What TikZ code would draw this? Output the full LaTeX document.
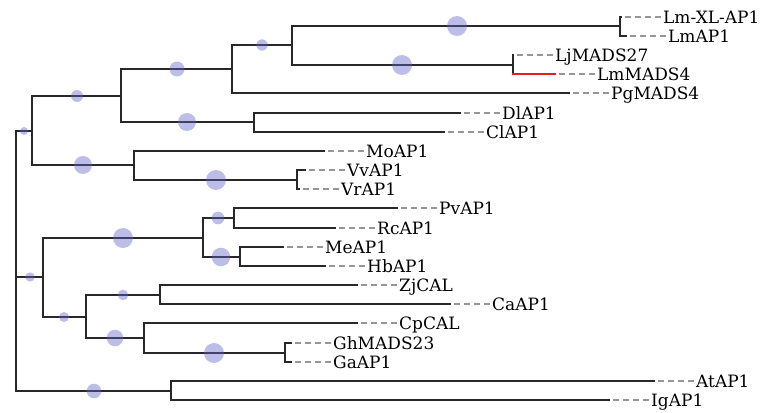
\documentclass[tikz,border=0pt]{standalone}
\usepackage{fontspec}
\setmainfont{DejaVu Serif}
\definecolor{branchcol}{RGB}{40,40,40}
\definecolor{dashcol}{RGB}{150,150,150}
\definecolor{supportcol}{RGB}{95,100,200}
\definecolor{redbranch}{RGB}{230,30,30}
\tikzset{
  branch/.style={draw=branchcol, line width=2pt},
  leafdash/.style={draw=dashcol, line width=1.4pt, dash pattern=on 6pt off 4pt},
  leaflabel/.style={anchor=west, inner sep=0pt, text height=12.4pt, text depth=0pt,
    font=\fontsize{17}{19}\selectfont, text=black},
  support/.style={circle, inner sep=0pt, draw=none, fill=supportcol, fill opacity=0.42},
}
\begin{document}
\begin{tikzpicture}[x=1pt,y=-1pt]
\useasboundingbox (0,0) rectangle (762,412);

% internal nodes of the tree
\coordinate (root) at (16,261);
\coordinate (a)    at (32,131);
\coordinate (a1)   at (121,96);
\coordinate (a11)  at (232,69);
\coordinate (a111) at (292,45);
\coordinate (lm)   at (620,26);
\coordinate (lj)   at (513,65);
\coordinate (a12)  at (254,122);
\coordinate (a2)   at (134,165);
\coordinate (vv)   at (297,180);
\coordinate (b)    at (43,277);
\coordinate (b1)   at (203,238);
\coordinate (b11)  at (234,218);
\coordinate (b12)  at (240,257);
\coordinate (b2)   at (86,317);
\coordinate (b21)  at (160,295);
\coordinate (b22)  at (144,338);
\coordinate (gh)   at (285,353);
\coordinate (c)    at (171,391);

% leaves with their dashed leaders and names
\foreach \name/\x/\y/\txt in {
  LmXL/622/17/Lm-XL-AP1, LmAP/627/36/LmAP1,
  LjMADS/514/55/LjMADS27, LmMADS/556/74/LmMADS4,
  PgMADS/570/93/PgMADS4, DlAP/461/113/DlAP1, ClAP/445/132/ClAP1,
  MoAP/325/151/MoAP1, VvAP/306/170/VvAP1, VrAP/300/189/VrAP1,
  PvAP/398/208/PvAP1, RcAP/336/228/RcAP1,
  MeAP/284/247/MeAP1, HbAP/326/266/HbAP1,
  ZjCAL/358/285/ZjCAL, CaAP/451/304/CaAP1,
  CpCAL/358/323/CpCAL, GhMADS/292/343/GhMADS23, GaAP/292/362/GaAP1,
  AtAP/655/381/AtAP1, IgAP/610/400/IgAP1}
{
  \coordinate (l-\name) at (\x,\y);
  \node[leaflabel] (t-\name) at ([xshift=41pt]l-\name) {\txt};
  \draw[leafdash] ([xshift=3pt]l-\name) -- ([xshift=-1pt]t-\name.west);
}

% branches (elbow connectors from parent to child)
\foreach \p/\ch in {
  root/a, root/b, root/c,
  a/a1, a/a2, a1/a11, a1/a12, a11/a111, a11/l-PgMADS,
  a111/lm, a111/lj, lm/l-LmXL, lm/l-LmAP, lj/l-LjMADS,
  a12/l-DlAP, a12/l-ClAP, a2/l-MoAP, a2/vv, vv/l-VvAP, vv/l-VrAP,
  b/b1, b/b2, b1/b11, b1/b12, b11/l-PvAP, b11/l-RcAP,
  b12/l-MeAP, b12/l-HbAP, b2/b21, b2/b22, b21/l-ZjCAL, b21/l-CaAP,
  b22/l-CpCAL, b22/gh, gh/l-GhMADS, gh/l-GaAP,
  c/l-AtAP, c/l-IgAP}
{
  \draw[branch] (\p) |- (\ch);
}
% highlighted branch
\draw[branch] (lj) -- (lj |- l-LmMADS);
\draw[branch, draw=redbranch] ([xshift=-1pt]lj |- l-LmMADS) -- (l-LmMADS);

% support circles on branches
\foreach \x/\y/\r [count=\i] in {
  24/131/4, 77/96/6, 83/165/9, 177/69/7.5, 187/122/9,
  262/45/5.7, 457/26/10, 402/65/10, 216/180/10,
  30/277/4.7, 123/238/10, 64/317/5, 218/218/6.3, 221/257/9.3,
  123/295/5.3, 115/338/8.3, 214/353/10, 94/391/7.3}
{
  \node[support, minimum size=2*\r pt] (s\i) at (\x,\y) {};
}
\end{tikzpicture}
\end{document}
